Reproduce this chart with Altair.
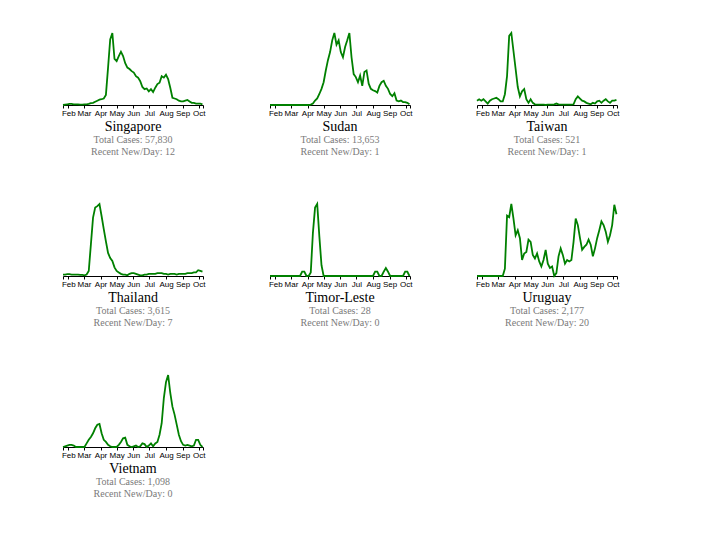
import altair as alt
import pandas as pd

# shared dates (every 4 days from 22 Jan 2020)
dates = pd.date_range("2020-01-22", periods=66, freq="4D").strftime("%Y-%m-%dT00:00:00").tolist()

countries = ["Singapore", "Sudan", "Taiwan", "Thailand", "Timor-Leste", "Uruguay", "Vietnam"]
total_cases = ["57,830", "13,653", "521", "3,615", "28", "2,177", "1,098"]
recent_per_day = ["12", "1", "1", "7", "0", "20", "0"]

# relative daily new cases (peak = 100)
singapore = [0, 0.5, 1, 1.5, 1.5, 1, 1, 1, 0.5, 0.5,
             1, 1, 1.5, 2.5, 3, 4.5, 6, 7.5, 8, 9,
             14, 52, 91, 100, 64, 61, 68, 74, 68, 58,
             52, 50, 47, 45, 40, 38, 33, 25, 22, 23,
             19, 22, 18, 24, 29, 31, 40, 38, 42, 36,
             24, 10, 9, 8, 6, 5, 5, 6, 7, 5,
             3, 3, 2, 2, 2, 1]
sudan = [0, 0, 0, 0, 0, 0, 0, 0, 0, 0,
         0, 0, 0, 0, 0, 0, 0, 0, 0, 0.5,
         2, 6, 9, 15, 22, 31, 47, 61, 72, 88,
         98, 82, 88, 72, 65, 79, 88, 98, 65, 42,
         38, 31, 40, 26, 45, 47, 29, 22, 20, 19,
         17, 26, 31, 33, 26, 22, 15, 12, 16, 6,
         5, 6, 4, 4, 3, 1]
taiwan = [6, 8, 6, 8, 5, 2, 6, 8, 9, 10,
          8, 5, 5, 15, 40, 96, 100, 75, 50, 25,
          12, 19, 22, 8, 3, 8, 3, 1, 0.5, 0.5,
          0.5, 0.5, 0, 0.5, 0.5, 0.5, 1, 2, 1, 0.5,
          0.5, 0.5, 0.5, 0.5, 0.5, 1, 8, 12, 9, 6,
          5, 3, 2, 1, 3, 2, 5, 6, 3, 6,
          8, 5, 3, 6, 6, 7]
thailand = [2, 2, 2.5, 2.5, 2, 2, 2, 2, 1.5, 1.5,
            1, 2, 7, 44, 81, 95, 97, 100, 83, 65,
            48, 32, 25, 21, 12, 7, 5, 3, 2, 2,
            1, 3, 4, 4, 3, 2, 1, 1, 2, 2,
            3, 3, 3, 3, 4, 4, 4, 3, 3, 2,
            3, 3, 3, 2, 3, 3, 3, 3, 4, 4,
            4, 5, 5, 8, 7, 6]
timor_leste = [0, 0, 0, 0, 0, 0, 0, 0, 0, 0,
               0, 0, 0, 0, 0, 6, 6, 0, 0, 5,
               60, 95, 100, 55, 15, 0, 0, 0, 0, 0,
               0, 0, 0, 0, 0, 0, 0, 0, 0, 0,
               0, 0, 0, 0, 0, 0, 0, 0, 0, 6,
               6, 0, 0, 6, 11, 6, 0, 0, 0, 0,
               0, 0, 0, 6, 6, 0]
uruguay = [0, 0, 0, 0, 0, 0, 0, 0, 0, 0,
           0, 0, 0, 10, 83, 81, 99, 79, 56, 63,
           52, 22, 31, 33, 50, 47, 29, 24, 31, 20,
           13, 22, 36, 17, 11, 13, 0, 4, 27, 38,
           29, 17, 22, 20, 22, 47, 79, 70, 52, 36,
           40, 43, 50, 43, 27, 38, 52, 63, 75, 70,
           61, 47, 56, 70, 98, 85]
vietnam = [0, 1, 2, 3, 3, 2, 0, 0, 0, 0,
           0, 5, 10, 14, 19, 26, 31, 32, 19, 10,
           7, 3, 1, 0, 0, 0, 3, 7, 12, 13,
           3, 1, 0, 1, 2, 0, 1, 5, 4, 0,
           2, 5, 1, 5, 7, 17, 33, 68, 90, 100,
           75, 56, 45, 31, 17, 8, 3, 2, 3, 2,
           1, 2, 10, 10, 3, 0]

series = [singapore, sudan, taiwan, thailand, timor_leste, uruguay, vietnam]

tick_values = [alt.DateTime(year=2020, month=1, date=22)] + \
    [alt.DateTime(year=2020, month=m, date=1) for m in range(2, 11)] + \
    [alt.DateTime(year=2020, month=10, date=9)]
x_domain = [alt.DateTime(year=2020, month=1, date=22), alt.DateTime(year=2020, month=10, date=9)]

charts = []
for name, tot, rec, vals in zip(countries, total_cases, recent_per_day, series):
    df = pd.DataFrame({"date": dates, "value": vals})
    ch = alt.Chart(df).mark_line(color="#008000", strokeWidth=1.8).encode(
        x=alt.X("date:T",
                scale=alt.Scale(domain=x_domain),
                axis=alt.Axis(values=tick_values, title=None, grid=False,
                              labelExpr="date(datum.value) == 1 ? timeFormat(datum.value, '%b') : ''",
                              labelFlush=False, labelOverlap=False,
                              labelFont="Liberation Sans", labelFontSize=8, labelColor="black",
                              labelPadding=1, tickSize=3, tickColor="black",
                              domainColor="black", domainWidth=1)),
        y=alt.Y("value:Q", scale=alt.Scale(domain=[0, max(vals)], nice=False), axis=None),
    ).properties(
        width=140, height=72,
        title=alt.TitleParams(
            text=name,
            subtitle=["Total Cases: " + tot, "Recent New/Day: " + rec],
            orient="bottom", anchor="middle", offset=3,
            font="Liberation Serif", fontSize=14, fontWeight="normal", color="black",
            subtitleFont="Liberation Serif", subtitleFontSize=10, subtitleColor="#7a7a7a",
            subtitlePadding=1, subtitleLineHeight=12,
        ),
    )
    charts.append(ch)

chart = alt.concat(*charts, columns=3, spacing={"row": 99, "column": 67}, bounds="flush").resolve_scale(
    x="independent", y="independent"
).properties(
    padding={"left": 51, "top": 21, "right": 5, "bottom": 5},
    background="white",
).configure_view(stroke=None, strokeWidth=0)

chart.save("out.html", embed_options={"renderer": "svg", "actions": False})
